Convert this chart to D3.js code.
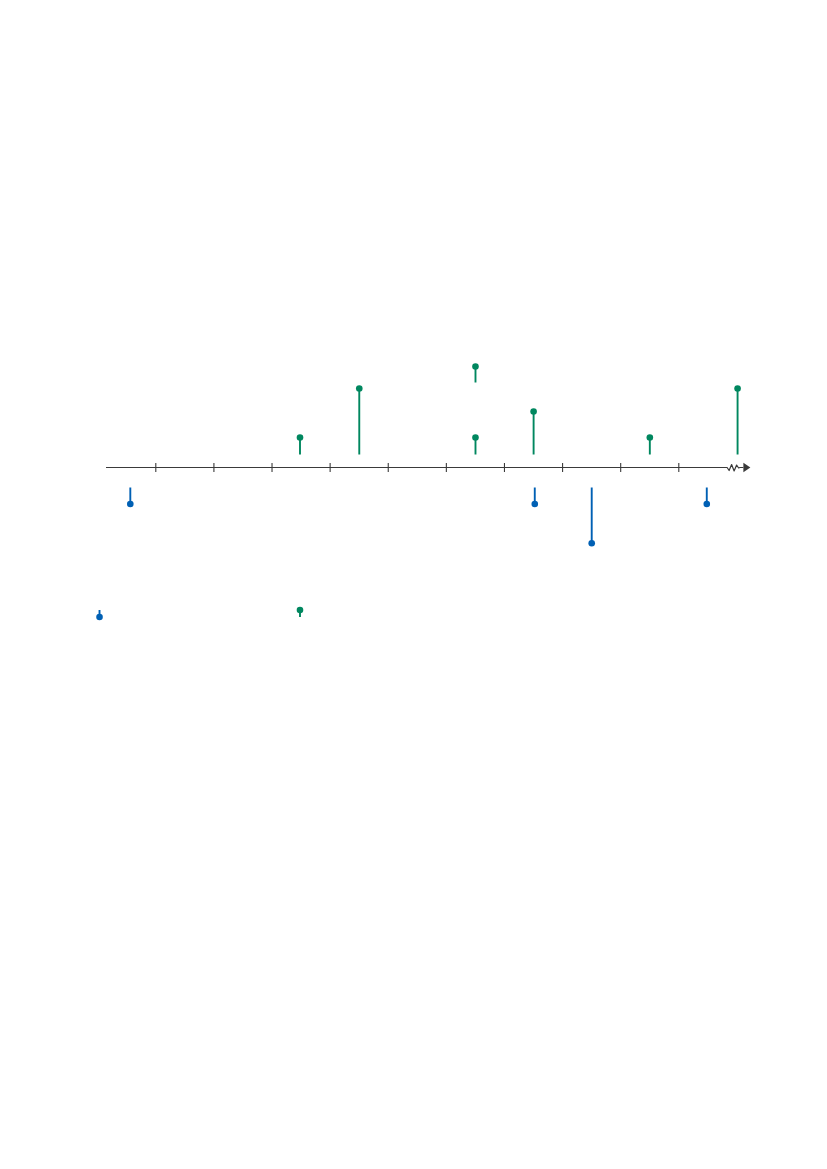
<!DOCTYPE html>
<html>
<head>
<meta charset="utf-8">
<script src="https://cdn.jsdelivr.net/npm/d3@7"></script>
<style>
  html, body { margin: 0; padding: 0; background: #ffffff; }
  svg { display: block; }
</style>
</head>
<body>
<svg id="chart" width="827" height="1169"></svg>
<script>
// ---- data ----
const tickValues = [1, 2, 3, 4, 5, 6, 7, 8, 9, 10];

const greenDates    = [3.49, 4.51, 6.51, 6.51, 7.51, 9.51, 11.02, 3.49];
const greenStemFrom = [1.3, 1.3, 1.3, 8.5, 1.3, 1.3, 1.3, -14.25];
const greenValues   = [3.0, 7.9, 3.0, 10.1, 5.6, 3.0, 7.9, -14.25];
const greenStemTo   = [3.0, 7.9, 3.0, 10.1, 5.6, 3.0, 7.9, -14.95];

const blueDates    = [0.57, 7.53, 8.51, 10.49, 0.04];
const blueStemFrom = [-2.0, -2.0, -2.0, -2.0, -14.25];
const blueValues   = [-3.65, -3.65, -7.58, -3.65, -14.95];

// ---- layout ----
const svg = d3.select("#chart");
const axisY = 467.5;
const x = d3.scaleLinear().domain([1, 10]).range([155.3, 678.3]);
const y = d3.scaleLinear().domain([0, 10]).range([axisY, axisY - 100]);

const axisColor = "#3a3a3a";
const green = "#00875f";
const blue = "#0060b4";

// axis line with break and arrow
const x0 = x.invert(106), xBreakStart = 10.84, xBreakEnd = 11.06, xArrow = 11.12, xTip = 11.24;
const xb = x(xBreakStart);
const axisPts = [
  [x(x0), 0], [xb, 0], [xb + 2, 3], [xb + 4.5, -3], [xb + 7, 3.5], [xb + 9.5, -2.5], [xb + 11.5, 0.5], [x(xBreakEnd), 0], [x(xArrow), 0]
];
svg.append("path")
  .attr("d", d3.line().x(d => d[0]).y(d => axisY + d[1])(axisPts))
  .attr("fill", "none")
  .attr("stroke", axisColor)
  .attr("stroke-width", 1.2)
  .attr("stroke-linejoin", "round");

svg.append("path")
  .attr("d", `M${x(xArrow)},${axisY - 4.7} L${x(xTip)},${axisY} L${x(xArrow)},${axisY + 4.7} Z`)
  .attr("fill", axisColor);

const axis = d3.axisBottom(x).tickValues(tickValues).tickSize(9).tickFormat("");
const gAxis = svg.append("g").attr("transform", `translate(0,${axisY})`).call(axis);
gAxis.select(".domain").remove();
gAxis.selectAll(".tick line")
  .attr("y1", -4.5).attr("y2", 4.5)
  .attr("stroke", axisColor).attr("stroke-width", 1.1);

// green events
const greenData = greenDates.map((d, i) => ({ d, from: greenStemFrom[i], to: greenStemTo[i], v: greenValues[i] }));
svg.append("g").selectAll("line").data(greenData).join("line")
  .attr("x1", e => x(e.d)).attr("x2", e => x(e.d))
  .attr("y1", e => y(e.from)).attr("y2", e => y(e.to))
  .attr("stroke", green).attr("stroke-width", 1.9);
svg.append("g").selectAll("circle").data(greenData).join("circle")
  .attr("cx", e => x(e.d)).attr("cy", e => y(e.v)).attr("r", 3.3)
  .attr("fill", green);

// blue events
const blueData = blueDates.map((d, i) => ({ d, from: blueStemFrom[i], v: blueValues[i] }));
svg.append("g").selectAll("line").data(blueData).join("line")
  .attr("x1", e => x(e.d)).attr("x2", e => x(e.d))
  .attr("y1", e => y(e.from)).attr("y2", e => y(e.v))
  .attr("stroke", blue).attr("stroke-width", 1.9);
svg.append("g").selectAll("circle").data(blueData).join("circle")
  .attr("cx", e => x(e.d)).attr("cy", e => y(e.v)).attr("r", 3.3)
  .attr("fill", blue);
</script>
</body>
</html>
